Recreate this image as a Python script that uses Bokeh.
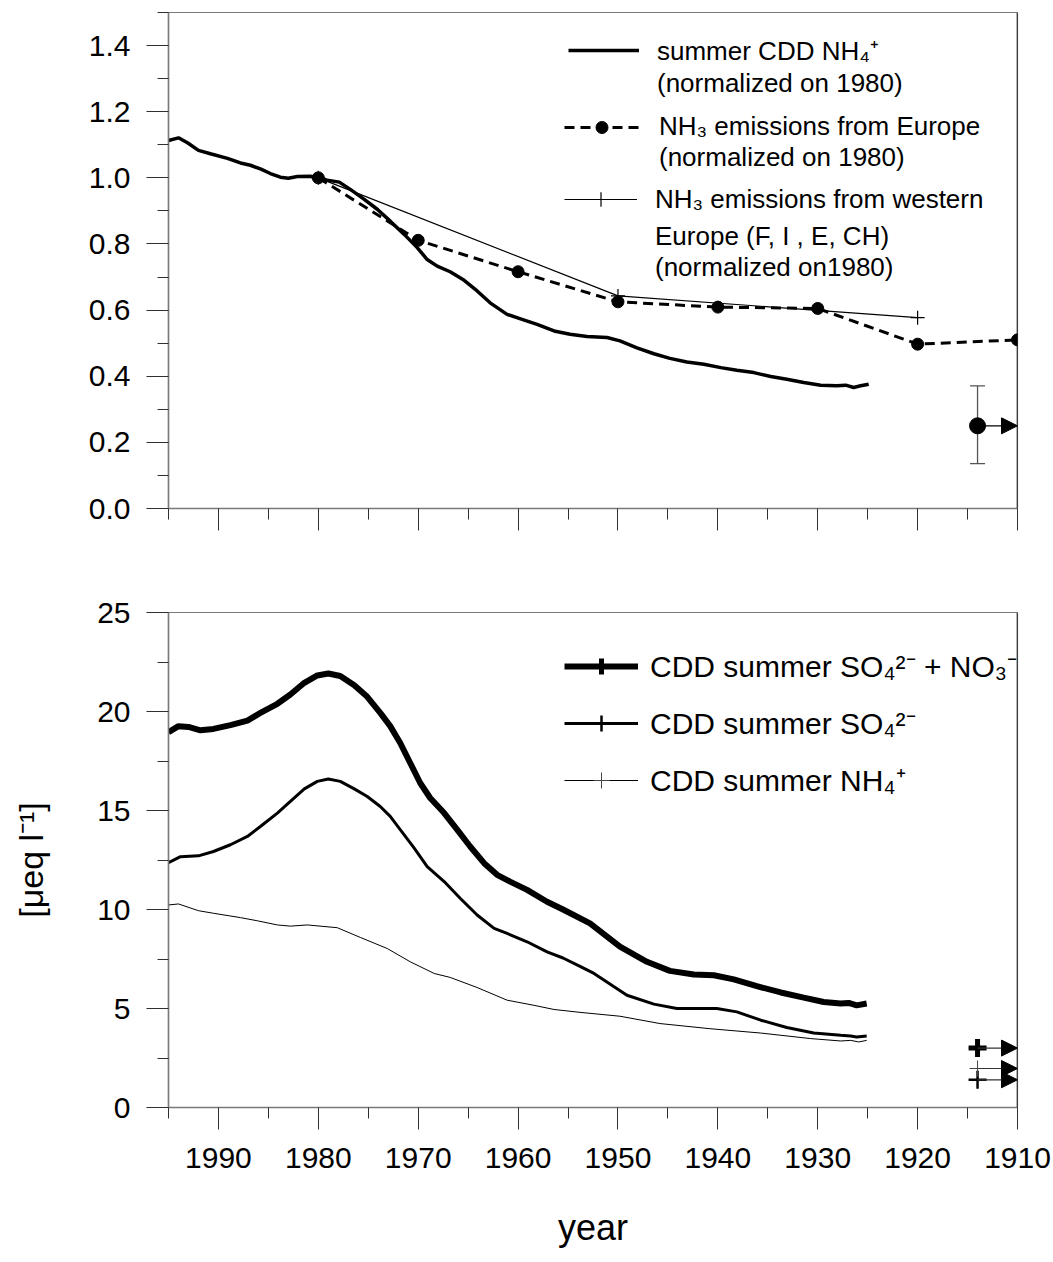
from bokeh.plotting import figure
from bokeh.models import (Range1d, FixedTicker, NumeralTickFormatter, Span, Legend, LegendItem,
                          Whisker, TeeHead, Arrow, NormalHead, ColumnDataSource, CustomLabelingPolicy)
from bokeh.layouts import column
from bokeh.embed import file_html
from bokeh.resources import INLINE

FONT = "Liberation Sans"
AXIS_GRAY = "#7a7a7a"

# ---------------- data: top panel (normalized on 1980) ----------------
nh4_norm_years = [1995.0, 1994.0, 1993.1, 1992.0, 1990.8, 1989.1, 1987.8, 1986.8, 1985.8, 1984.8,
                  1983.8, 1983.0, 1982.1, 1980.8, 1980.0, 1979.1, 1977.9, 1976.8, 1975.4, 1974.1,
                  1972.8, 1971.4, 1970.1, 1969.1, 1968.1, 1966.8, 1965.4, 1964.1, 1962.8, 1961.1,
                  1959.6, 1958.1, 1956.4, 1954.8, 1953.1, 1951.1, 1949.8, 1948.1, 1946.4, 1944.8,
                  1943.1, 1941.4, 1939.7, 1938.1, 1936.4, 1934.7, 1933.1, 1931.4, 1929.7, 1928.1,
                  1927.2, 1926.4, 1925.7, 1924.9]
nh4_norm_vals = [1.113, 1.121, 1.106, 1.083, 1.073, 1.059, 1.045, 1.038, 1.027, 1.013,
                 1.002, 0.999, 1.004, 1.005, 1.000, 0.993, 0.987, 0.965, 0.935, 0.905,
                 0.869, 0.829, 0.789, 0.753, 0.733, 0.716, 0.690, 0.658, 0.622, 0.587,
                 0.572, 0.557, 0.537, 0.527, 0.520, 0.517, 0.507, 0.486, 0.468, 0.454,
                 0.443, 0.436, 0.426, 0.418, 0.411, 0.399, 0.391, 0.381, 0.373, 0.371,
                 0.373, 0.366, 0.371, 0.376]
eu_years = [1980, 1970, 1960, 1950, 1940, 1930, 1920, 1910]
eu_vals = [1.0, 0.811, 0.716, 0.625, 0.609, 0.605, 0.497, 0.51]
weu_years = [1980, 1950, 1920]
weu_vals = [1.0, 0.643, 0.577]
pre_year = [1914]
arrow_end_year = [1910]
pre_nh4_norm = [0.25]
pre_nh4_norm_hi = [0.371]
pre_nh4_norm_lo = [0.136]

# ---------------- data: bottom panel [µeq l-1] ----------------
sn_years = [1995.0, 1994.0, 1993.0, 1991.8, 1990.5, 1988.8, 1987.1, 1985.8, 1984.1, 1982.8,
            1981.4, 1980.1, 1979.0, 1977.8, 1976.4, 1975.1, 1973.8, 1972.8, 1971.8, 1970.8,
            1969.8, 1968.8, 1967.4, 1966.1, 1964.8, 1963.4, 1962.1, 1960.8, 1959.1, 1957.1,
            1955.5, 1952.8, 1949.8, 1947.1, 1944.8, 1942.4, 1940.4, 1938.4, 1936.1, 1933.7,
            1931.4, 1929.4, 1927.7, 1926.9, 1926.1, 1925.1]
sn_vals = [18.95, 19.26, 19.22, 19.05, 19.12, 19.31, 19.54, 19.93, 20.39, 20.86,
           21.45, 21.82, 21.92, 21.79, 21.32, 20.74, 19.93, 19.26, 18.41, 17.40,
           16.39, 15.63, 14.87, 14.03, 13.18, 12.34, 11.75, 11.41, 10.99, 10.39,
           10.00, 9.30, 8.12, 7.36, 6.90, 6.72, 6.68, 6.47, 6.13, 5.81,
           5.55, 5.33, 5.25, 5.28, 5.16, 5.25]
so4_years = [1995.0, 1993.8, 1992.0, 1990.5, 1988.8, 1987.1, 1985.8, 1984.1, 1982.8, 1981.4,
             1980.1, 1979.0, 1977.8, 1976.4, 1975.1, 1973.8, 1972.8, 1971.8, 1970.4, 1969.1,
             1967.4, 1965.8, 1964.1, 1962.4, 1961.1, 1959.1, 1957.1, 1955.5, 1953.7, 1952.4,
             1949.1, 1946.4, 1944.1, 1940.1, 1938.1, 1935.7, 1933.1, 1930.4, 1927.7, 1926.7,
             1926.1, 1925.1]
so4_vals = [12.37, 12.67, 12.71, 12.93, 13.27, 13.69, 14.19, 14.87, 15.46, 16.09,
            16.47, 16.59, 16.47, 16.09, 15.71, 15.20, 14.70, 14.03, 13.10, 12.17,
            11.41, 10.57, 9.72, 9.05, 8.79, 8.37, 7.86, 7.55, 7.10, 6.77,
            5.67, 5.22, 5.00, 5.00, 4.83, 4.41, 4.04, 3.76, 3.65, 3.61,
            3.56, 3.61]
nh4_years = [1995.0, 1994.0, 1992.0, 1990.5, 1987.8, 1986.1, 1984.1, 1982.8, 1981.1, 1978.1,
             1975.8, 1973.1, 1970.8, 1968.4, 1966.8, 1964.1, 1961.1, 1958.4, 1956.4, 1953.7,
             1949.8, 1945.8, 1940.8, 1935.7, 1930.7, 1927.7, 1926.7, 1925.9, 1925.1]
nh4_vals = [10.23, 10.28, 9.94, 9.81, 9.59, 9.43, 9.22, 9.16, 9.22, 9.08,
            8.59, 8.03, 7.36, 6.77, 6.57, 6.06, 5.42, 5.16, 4.95, 4.80,
            4.61, 4.24, 3.98, 3.76, 3.48, 3.36, 3.39, 3.31, 3.39]
pre_sn = [3.0]
pre_so4 = [1.4]
pre_nh4 = [1.97]

# ---------------- ticks ----------------
x_major = [1990, 1980, 1970, 1960, 1950, 1940, 1930, 1920, 1910]
x_minor = [1995, 1985, 1975, 1965, 1955, 1945, 1935, 1925, 1915]
top_y_major = [0.0, 0.2, 0.4, 0.6, 0.8, 1.0, 1.2, 1.4]
top_y_minor = [0.1, 0.3, 0.5, 0.7, 0.9, 1.1, 1.3, 1.5]
bot_y_major = [0, 5, 10, 15, 20, 25]
bot_y_minor = [2.5, 7.5, 12.5, 17.5, 22.5]

W = 1053
LEFT = 168
FRAME_W = 849


def make_fig(height, top, bottom, y_end, y_major, y_minor):
    p = figure(width=W, height=height, x_range=Range1d(1995, 1910), y_range=Range1d(0, y_end),
               output_backend="svg", toolbar_location=None,
               min_border_left=LEFT, min_border_right=W - LEFT - FRAME_W,
               min_border_top=top, min_border_bottom=bottom)
    p.xgrid.grid_line_color = None
    p.ygrid.grid_line_color = None
    p.outline_line_color = AXIS_GRAY
    p.outline_line_width = 1.2
    p.xaxis.ticker = FixedTicker(ticks=x_major, minor_ticks=x_minor)
    p.yaxis.ticker = FixedTicker(ticks=y_major, minor_ticks=y_minor)
    for ax in (p.xaxis[0], p.yaxis[0]):
        ax.axis_line_color = AXIS_GRAY
        ax.axis_line_width = 1.5
        ax.major_tick_line_color = "#303030"
        ax.minor_tick_line_color = "#303030"
        ax.major_tick_out = 22
        ax.major_tick_in = 0
        ax.minor_tick_out = 11
        ax.minor_tick_in = 0
        ax.major_label_text_font = FONT
        ax.major_label_text_font_size = "30px"
        ax.major_label_text_color = "black"
        ax.axis_label_text_font = FONT
        ax.axis_label_text_font_style = "normal"
        ax.axis_label_text_color = "black"
    p.yaxis.major_label_standoff = 16
    p.xaxis.major_label_standoff = 18
    p.add_layout(Span(location=1910, dimension="height", line_color="black", line_width=1.5))
    return p


def add_legend(p, items, x, y, gw, gh, standoff, spacing, size):
    leg = Legend(items=items, location=(x, y), glyph_width=gw, glyph_height=gh, label_height=gh,
                 label_standoff=standoff, spacing=spacing, padding=0, margin=0,
                 border_line_color=None, background_fill_alpha=0,
                 label_text_font=FONT, label_text_font_size=size, label_text_color="black")
    p.add_layout(leg)


# ---------------- top panel ----------------
p1 = make_fig(548, 12, 40, 1.5, top_y_major, top_y_minor)
p1.yaxis.formatter = NumeralTickFormatter(format="0.0")
p1.xaxis.major_label_text_font_size = "2px"
p1.xaxis.major_label_standoff = 0
p1.xaxis.major_label_policy = CustomLabelingPolicy(code="return []")

r_nh4n = p1.line(nh4_norm_years, nh4_norm_vals, line_color="black", line_width=3.5)
r_weu = p1.line(weu_years, weu_vals, line_color="black", line_width=1.2)
r_weu_m = p1.scatter(weu_years, weu_vals, marker="cross", size=14, line_color="black", line_width=1.2)
r_eu = p1.line(eu_years, eu_vals, line_color="black", line_width=3, line_dash="10 6")
r_eu_m = p1.scatter(eu_years, eu_vals, marker="circle", size=12, fill_color="black", line_color="black")
ghost1 = p1.line(x=[], y=[], line_alpha=0)

src_top = ColumnDataSource(dict(x=pre_year, x1=arrow_end_year, y=pre_nh4_norm,
                                hi=pre_nh4_norm_hi, lo=pre_nh4_norm_lo))
p1.add_layout(Whisker(source=src_top, base="x", upper="hi", lower="lo", dimension="height",
                      line_color="#555555", line_width=1.3,
                      upper_head=TeeHead(size=15, line_color="#555555", line_width=1.3),
                      lower_head=TeeHead(size=15, line_color="#555555", line_width=1.3)))
p1.add_layout(Arrow(source=src_top, x_start="x", y_start="y", x_end="x1", y_end="y",
                    line_color="black", line_width=1.2,
                    end=NormalHead(size=16, fill_color="black", line_color="black")))
p1.scatter("x", "y", source=src_top, size=16, color="black")

add_legend(p1, [LegendItem(label="summer CDD NH\u2084\u207a", renderers=[r_nh4n]),
                LegendItem(label="(normalized on 1980)", renderers=[ghost1])],
           400, 409, 71, 30, 18, 0, "26px")
add_legend(p1, [LegendItem(label="NH\u2083 emissions from Europe", renderers=[r_eu, r_eu_m]),
                LegendItem(label="(normalized on 1980)", renderers=[ghost1])],
           396, 335, 75, 30, 20, 0, "26px")
add_legend(p1, [LegendItem(label="NH\u2083 emissions from western", renderers=[r_weu, r_weu_m])],
           396, 291, 73, 36, 18, 0, "26px")
add_legend(p1, [LegendItem(label="Europe (F, I , E, CH)", renderers=[ghost1]),
                LegendItem(label="(normalized on1980)", renderers=[ghost1])],
           396, 225, 73, 30, 18, 0, "26px")

# ---------------- bottom panel ----------------
p2 = make_fig(714, 64, 155, 25, bot_y_major, bot_y_minor)
p2.xaxis.axis_label = "year"
p2.xaxis.axis_label_text_font_size = "36px"
p2.xaxis.axis_label_standoff = 36
p2.yaxis.axis_label = "[\u03bceq l\u207b\u00b9]"
p2.yaxis.axis_label_text_font_size = "34px"
p2.yaxis.axis_label_standoff = 44

r_sn = p2.line(sn_years, sn_vals, line_color="black", line_width=6)
r_so4 = p2.line(so4_years, so4_vals, line_color="black", line_width=3)
r_nh4 = p2.line(nh4_years, nh4_vals, line_color="black", line_width=1)

src_bot = ColumnDataSource(dict(x=pre_year * 3, x1=arrow_end_year * 3, y=pre_sn + pre_so4 + pre_nh4))
p2.add_layout(Arrow(source=src_bot, x_start="x", y_start="y", x_end="x1", y_end="y",
                    line_color="#333333", line_width=1.2,
                    end=NormalHead(size=16, fill_color="black", line_color="black")))
m_sn = p2.scatter(pre_year, pre_sn, marker="cross", size=18, line_color="black", line_width=5)
m_so4 = p2.scatter(pre_year, pre_so4, marker="cross", size=18, line_color="black", line_width=2.5)
m_nh4 = p2.scatter(pre_year, pre_nh4, marker="cross", size=16, line_color="#444444", line_width=1)

add_legend(p2, [LegendItem(label="CDD summer SO\u2084\u00b2\u207b + NO\u2083\u207b", renderers=[r_sn, m_sn]),
                LegendItem(label="CDD summer SO\u2084\u00b2\u207b", renderers=[r_so4, m_so4]),
                LegendItem(label="CDD summer NH\u2084\u207a", renderers=[r_nh4, m_nh4])],
           396, 307, 74, 40, 12, 16, "30px")

layout = column(p1, p2)
open("out.html", "w").write(file_html(layout, INLINE))
